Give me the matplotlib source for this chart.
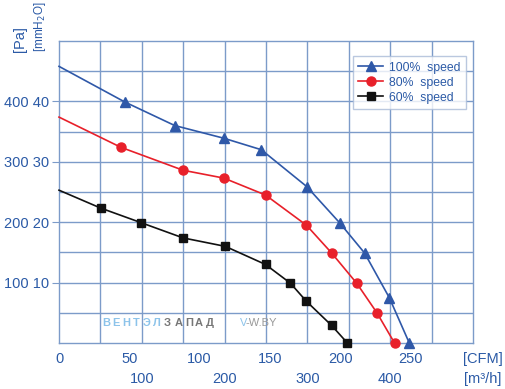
import matplotlib
matplotlib.use("Agg")
import matplotlib.pyplot as plt
import numpy as np

plt.rcParams['font.family'] = ['Liberation Sans', 'DejaVu Sans']

# Data (CFM, Pa as labelled on the chart)
cfm_100 = [0, 46.8, 82.3, 117.2, 143.8, 176.1, 199.5, 217.2, 234.8, 249.0]
pa_100 = [458, 399, 360, 339, 320, 259, 199, 149, 75, 0]
cfm_80 = [0, 44.0, 88.2, 117.2, 146.8, 175.9, 193.8, 211.6, 226.0, 238.5]
pa_80 = [374, 324, 286, 273, 245, 195, 149, 99, 50, 0]
cfm_60 = [0, 29.5, 58.6, 88.2, 118.2, 146.8, 164.5, 175.9, 193.8, 205.0]
pa_60 = [253, 223.5, 199, 174, 160, 130, 99, 69, 29, 0]

series_labels = ["100%  speed", "80%  speed", "60%  speed"]
cfm_ticks = [0, 50, 100, 150, 200, 250]
m3h_ticks = [100, 200, 300, 400]
pa_ticks = [100, 200, 300, 400]
mm_labels = ["10", "20", "30", "40"]

CFM_PER_M3H = 1 / 1.69901

txt = '#2b5aa6'
gridc = '#7c9bc9'

fig = plt.figure(figsize=(5.06, 3.89), dpi=100)
ax = fig.add_axes([59/506, 1-343/389, (473-59)/506, (343-41)/389])

xmax = 500 * CFM_PER_M3H
ymax = 500
ax.set_xlim(0, xmax)
ax.set_ylim(0, ymax)

# grid
for k in range(1, 10):
    ax.axvline(k * 50 * CFM_PER_M3H, color=gridc, lw=1.0, zorder=1)
for k in range(1, 10):
    ax.axhline(k * 50, color=gridc, lw=1.0, zorder=1)
for s in ax.spines.values():
    s.set_color(gridc)
    s.set_linewidth(1.0)

cols = ['#2f58a8', '#e8202a', '#111111']
marks = ['^', 'o', 's']
sizes = [6.5, 6.5, 5.5]
handles = []
for xs, ys, c, m, ms, lab in zip([cfm_100, cfm_80, cfm_60], [pa_100, pa_80, pa_60],
                                  cols, marks, sizes, series_labels):
    h, = ax.plot(xs, ys, color=c, lw=1.2, marker=m, ms=ms, markevery=list(range(1, len(xs))),
                 label=lab, zorder=3, clip_on=False)
    handles.append(h)

leg = fig.legend(handles=handles, loc='upper right', bbox_to_anchor=(466/506, 1-56/389),
                 fontsize=8.8, frameon=True, fancybox=False, borderpad=0.45,
                 handlelength=2.0, labelspacing=0.25, handletextpad=0.5, borderaxespad=0.0)
leg.get_frame().set_edgecolor('#a9bbd8')
leg.get_frame().set_linewidth(1.0)
for t in leg.get_texts():
    t.set_color(txt)

# y ticks
ax.set_yticks(pa_ticks)
ax.set_yticklabels([f"{p} {m}" for p, m in zip(pa_ticks, mm_labels)], color=txt, fontsize=10.5)
ax.tick_params(axis='y', length=5, color=gridc, pad=2)
ax.set_xticks([])

# x labels
def fx(v):
    return (59 + v * (473 - 59) / xmax) / 506

for v in cfm_ticks:
    fig.text(fx(v), 1-359/389, str(v), ha='center', va='center', color=txt, fontsize=10.5)
for v in m3h_ticks:
    fig.text(fx(v * CFM_PER_M3H), 1-379/389, str(v), ha='center', va='center', color=txt, fontsize=10.5)
fig.text(483/506, 1-359/389, "[CFM]", ha='center', va='center', color=txt, fontsize=10.5)
fig.text(483/506, 1-379/389, "[m³/h]", ha='center', va='center', color=txt, fontsize=10.5)

# y axis unit labels
fig.text(20/506, 1-52/389, "[Pa]", rotation=90, ha='center', va='bottom', color=txt, fontsize=10.5)
fig.text(40/506, 1-52/389, "[mmH$_2$O]", rotation=90, ha='center', va='bottom', color=txt, fontsize=8.5)

# watermark
wm1 = "ВЕНТЭЛ"
wm2 = "ЗАПАД"
for i, ch in enumerate(wm1):
    fig.text((102 + i * 10.2)/506, 1-323/389, ch, ha='left', va='center', color='#8cc3ea',
             fontsize=8, fontweight='bold')
for i, ch in enumerate(wm2):
    fig.text((164 + i * 10.4)/506, 1-323/389, ch, ha='left', va='center', color='#777777',
             fontsize=8, fontweight='bold')
fig.text(240/506, 1-323/389, "V", ha='left', va='center', color='#8cc3ea', fontsize=8)
fig.text(246/506, 1-323/389, "-W.BY", ha='left', va='center', color='#999999', fontsize=8)

fig.savefig("out.png", dpi=100)
